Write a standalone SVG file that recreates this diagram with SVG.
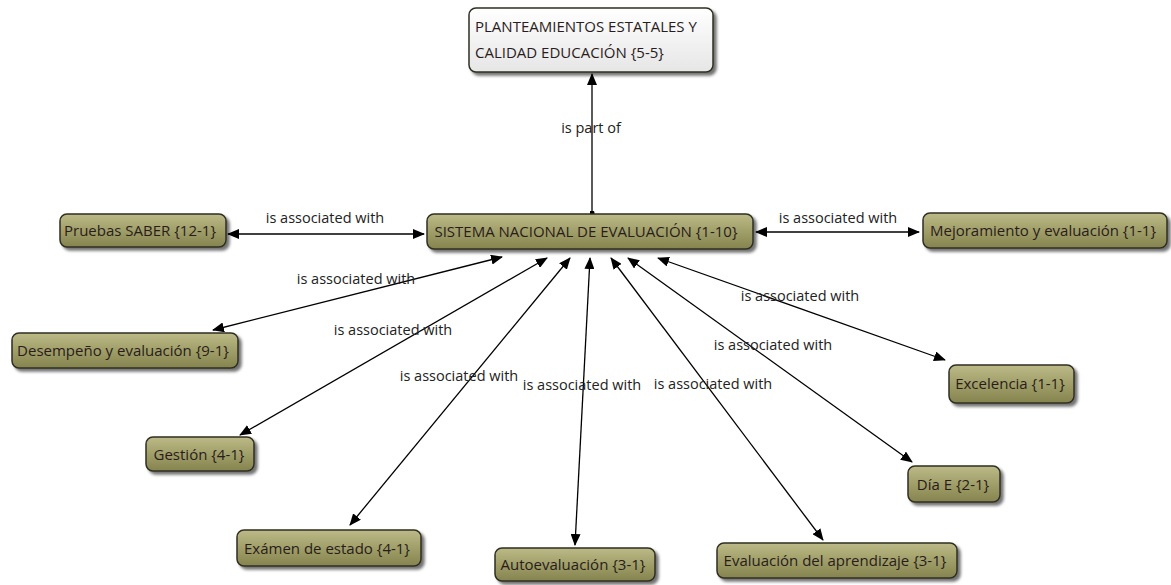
<svg xmlns="http://www.w3.org/2000/svg" width="1171" height="585" viewBox="0 0 1171 585">
  <defs>
    <linearGradient id="olive" x1="0" y1="0" x2="0" y2="1">
      <stop offset="0" stop-color="#bcbb88"/>
      <stop offset="0.5" stop-color="#a09f69"/>
      <stop offset="1" stop-color="#85844f"/>
    </linearGradient>
    <linearGradient id="pale" x1="0" y1="0" x2="0" y2="1">
      <stop offset="0" stop-color="#ffffff"/>
      <stop offset="1" stop-color="#e6e6e6"/>
    </linearGradient>
    <filter id="shadow" x="-10%" y="-30%" width="125%" height="170%">
      <feDropShadow dx="3" dy="3" stdDeviation="1.6" flood-color="#000" flood-opacity="0.55"/>
    </filter>
    <marker id="arrow" viewBox="0 0 12 10" refX="11" refY="5" markerWidth="12" markerHeight="10" markerUnits="userSpaceOnUse" orient="auto-start-reverse">
      <path d="M0,0 L12,5 L0,10 Z" fill="#000"/>
    </marker>
    <marker id="dot" viewBox="0 0 6 6" refX="3" refY="3" markerWidth="5" markerHeight="5" markerUnits="userSpaceOnUse">
      <circle cx="3" cy="3" r="3" fill="#000"/>
    </marker>
  </defs>
  <style>
    .node rect { fill: url(#olive); stroke: #2f2f22; stroke-width: 1.5; filter: url(#shadow); }
    .node.root rect { fill: url(#pale); }
    .node text { font-family: "Open Sans", "Noto Sans", sans-serif; font-size: 15px; fill: #2a1c1c; text-anchor: middle; }
    .edge { stroke: #000; stroke-width: 1.3; fill: none; marker-start: url(#arrow); marker-end: url(#arrow); }
    .edge.up { marker-start: url(#dot); }
    .lbl { font-family: "Open Sans", "Noto Sans", sans-serif; font-size: 14.5px; fill: #222; text-anchor: middle; }
  </style>

  <rect width="1171" height="585" fill="#fff"/>

  <!-- connectors -->
  <g id="connectors">
    <line class="edge up" x1="592" y1="213" x2="592" y2="74"/>
    <line class="edge" x1="228" y1="234" x2="424" y2="234"/>
    <line class="edge" x1="756" y1="232" x2="919" y2="232"/>
    <line class="edge" x1="502" y1="257" x2="213" y2="330"/>
    <line class="edge" x1="547" y1="258" x2="240" y2="435"/>
    <line class="edge" x1="570" y1="258" x2="350" y2="525"/>
    <line class="edge" x1="590" y1="258" x2="575" y2="545"/>
    <line class="edge" x1="611" y1="258" x2="823" y2="540"/>
    <line class="edge" x1="628" y1="258" x2="912" y2="462"/>
    <line class="edge" x1="658" y1="258" x2="945" y2="360"/>
    <text class="lbl" x="591" y="133">is part of</text>
    <text class="lbl" x="325" y="223">is associated with</text>
    <text class="lbl" x="838" y="223">is associated with</text>
    <text class="lbl" x="356" y="284">is associated with</text>
    <text class="lbl" x="393" y="335">is associated with</text>
    <text class="lbl" x="459" y="381">is associated with</text>
    <text class="lbl" x="582" y="390">is associated with</text>
    <text class="lbl" x="713" y="389">is associated with</text>
    <text class="lbl" x="773" y="350">is associated with</text>
    <text class="lbl" x="800" y="301">is associated with</text>
  </g>

  <g id="n-planteamientos" class="node root">
    <rect x="469" y="8" width="244" height="64" rx="7"/>
    <text x="475" y="32" style="text-anchor:start">PLANTEAMIENTOS ESTATALES Y</text>
    <text x="475" y="58" style="text-anchor:start">CALIDAD EDUCACIÓN {5-5}</text>
  </g>
  <g id="n-sistema" class="node">
    <rect x="427" y="214" width="326" height="35" rx="7"/>
    <text x="586" y="237">SISTEMA NACIONAL DE EVALUACIÓN {1-10}</text>
  </g>
  <g id="n-pruebas" class="node">
    <rect x="60" y="214" width="166" height="33" rx="7"/>
    <text x="140" y="236">Pruebas SABER {12-1}</text>
  </g>
  <g id="n-mejoramiento" class="node">
    <rect x="923" y="213" width="244" height="35" rx="7"/>
    <text x="1043" y="236">Mejoramiento y evaluación {1-1}</text>
  </g>
  <g id="n-desempeno" class="node">
    <rect x="12" y="333" width="226" height="35" rx="7"/>
    <text x="123" y="356">Desempeño y evaluación {9-1}</text>
  </g>
  <g id="n-gestion" class="node">
    <rect x="146" y="437" width="108" height="34" rx="7"/>
    <text x="199" y="460">Gestión {4-1}</text>
  </g>
  <g id="n-examen" class="node">
    <rect x="237" y="530" width="184" height="36" rx="7"/>
    <text x="327" y="554">Exámen de estado {4-1}</text>
  </g>
  <g id="n-autoevaluacion" class="node">
    <rect x="495" y="548" width="160" height="33" rx="7"/>
    <text x="573" y="570">Autoevaluación {3-1}</text>
  </g>
  <g id="n-aprendizaje" class="node">
    <rect x="717" y="543" width="240" height="35" rx="7"/>
    <text x="835" y="566">Evaluación del aprendizaje {3-1}</text>
  </g>
  <g id="n-dia" class="node">
    <rect x="908" y="466" width="92" height="36" rx="7"/>
    <text x="953" y="490">Día E {2-1}</text>
  </g>
  <g id="n-excelencia" class="node">
    <rect x="949" y="365" width="125" height="38" rx="7"/>
    <text x="1010" y="389">Excelencia {1-1}</text>
  </g>
</svg>
